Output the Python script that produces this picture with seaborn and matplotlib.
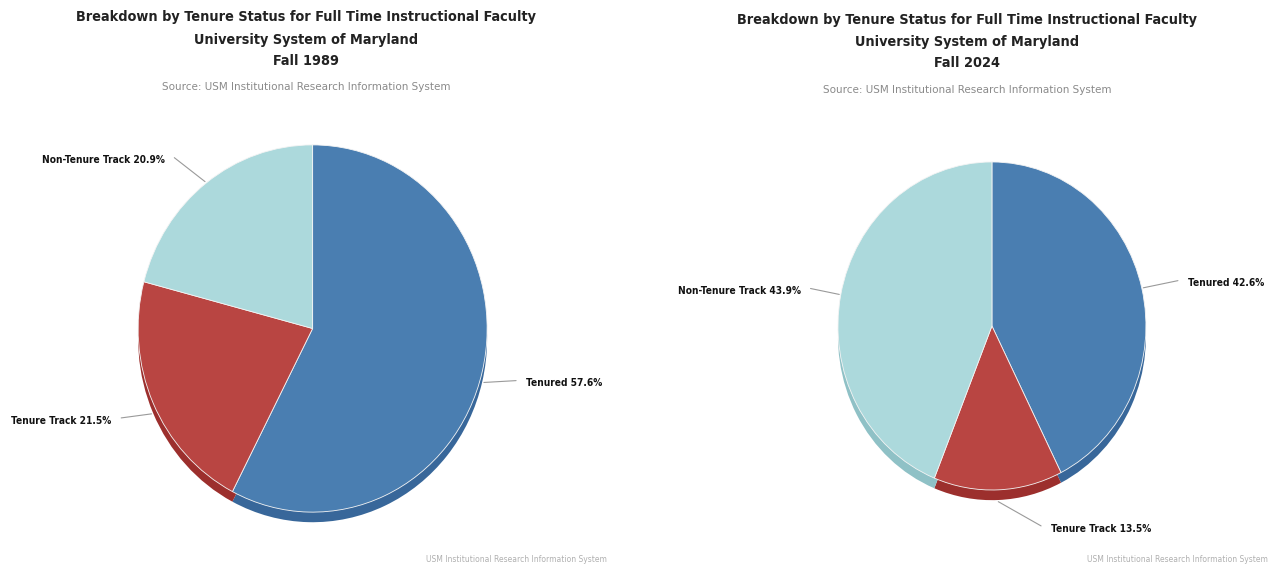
import numpy as np
import matplotlib
matplotlib.use("Agg")
import matplotlib.pyplot as plt
import seaborn as sns

# data
categories = ["Tenured", "Tenure Track", "Non-Tenure Track"]
share_1989 = [57.6, 21.5, 20.9]
share_2024 = [42.6, 13.5, 43.9]
years = ["1989", "2024"]

title_lines = ["Breakdown by Tenure Status for Full Time Instructional Faculty",
               "University System of Maryland", "Fall {}"]
source_txt = "Source: USM Institutional Research Information System"
credit_txt = "USM Institutional Research Information System"

sns.set_theme(style="white")
plt.rcParams["font.family"] = ["DejaVu Sans"]

face = ["#4a7eb1", "#b94542", "#acd9dc"]
side = ["#38679a", "#9c2f2d", "#8fc1c6"]

W, H = 1282, 569
fig = plt.figure(figsize=(W / 100, H / 100), dpi=100)


def px(x, y):
    return x / W, 1 - y / H


def draw_pie(ax, values, drop, nudges):
    # shadow (side of the 3D disc) then the top face
    ax.pie(values, colors=side, startangle=90, counterclock=False,
           center=(0, -drop), wedgeprops=dict(linewidth=0))
    wedges, _ = ax.pie(values, colors=face, startangle=90, counterclock=False,
                       wedgeprops=dict(edgecolor="#f4f4f4", linewidth=0.6))
    ax.set_aspect("auto")
    ax.set_xlim(-1.25, 1.25)
    ax.set_ylim(-1.25, 1.25)
    for w, name, v, nd in zip(wedges, categories, values, nudges):
        a = np.deg2rad((w.theta1 + w.theta2) / 2)
        c, s = np.cos(a), np.sin(a)
        x0, y0 = c * 1.01, s * 1.01 - (drop if s < 0 else 0)
        x1, y1 = c * 1.2 + nd[0], s * 1.2 + nd[1]
        ax.plot([x0, x1], [y0, y1], color="#9a9a9a", lw=0.8, clip_on=False)
        ha = "left" if x1 >= 0 else "right"
        off = 7 if ha == "left" else -7
        ax.annotate(f"{name} {v}%", xy=(x1, y1), xytext=(off, -2),
                    textcoords="offset points", ha=ha, va="center",
                    fontsize=7.3, fontweight="bold", fontstretch="condensed",
                    color="#111111")


# pie axes placed so the discs sit where the reference has them
ax1 = fig.add_axes([0.0737, 0.0193, 0.3403, 0.8067])
ax2 = fig.add_axes([0.6236, 0.0668, 0.3003, 0.7206])

draw_pie(ax1, share_1989, 0.055, [(0, 0), (0, 0), (-0.06, -0.02)])
draw_pie(ax2, share_2024, 0.062, [(0.04, 0), (0.27, -0.02), (0, 0)])

for cx, ys, yr in [(306, (17, 40, 61, 87), years[0]), (967, (20, 42, 63, 90), years[1])]:
    for line, y in zip(title_lines, ys[:3]):
        fig.text(*px(cx, y), line.format(yr), ha="center", va="center",
                 fontsize=10.4, fontweight="bold", fontstretch="condensed",
                 color="#222222")
    fig.text(*px(cx, ys[3]), source_txt, ha="center", va="center",
             fontsize=7.5, color="#8a8a8a")

fig.text(*px(607, 559), credit_txt, ha="right", va="center", fontsize=5.5, color="#b0b0b0")
fig.text(*px(1268, 560), credit_txt, ha="right", va="center", fontsize=5.5, color="#b0b0b0")

fig.savefig("out.png", dpi=100, facecolor="white")
